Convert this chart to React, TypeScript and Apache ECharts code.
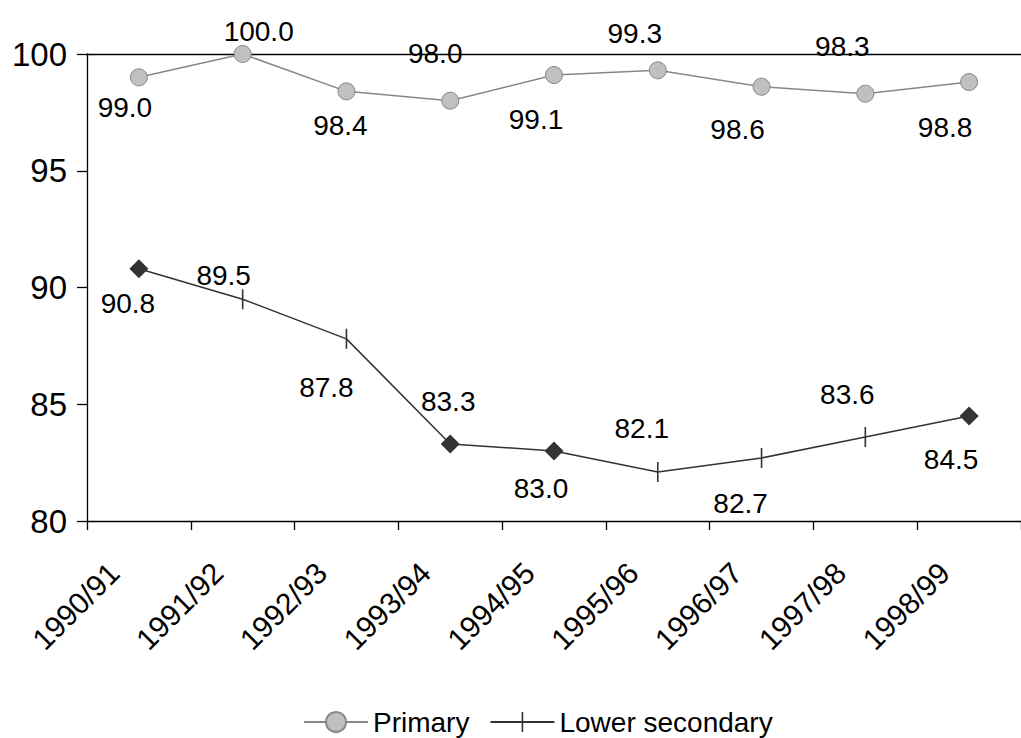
import React, { useEffect, useRef } from "react";
import * as echarts from "echarts";

// School years on the category axis
const years = [
  "1990/91", "1991/92", "1992/93", "1993/94", "1994/95",
  "1995/96", "1996/97", "1997/98", "1998/99",
];

// Rates per level (per cent)
const primary = [99.0, 100.0, 98.4, 98.0, 99.1, 99.3, 98.6, 98.3, 98.8];
const lowerSecondary = [90.8, 89.5, 87.8, 83.3, 83.0, 82.1, 82.7, 83.6, 84.5];

// Years whose lower-secondary point is drawn as a diamond
const diamondYears = ["1990/91", "1993/94", "1994/95", "1998/99"];

// Value-axis ticks
const yMin = 80;
const yMax = 100;
const yStep = 5;

// Label placement relative to each point (px), kept apart from the values
const primaryLabelShift: [number, number][] = [
  [-14, 30], [16, -23], [-6, 34], [-15, -47], [-18, 44],
  [-23, -37], [-24, 43], [-23, -47], [-24, 45],
];
const lowerLabelShift: [number, number][] = [
  [-11, 35], [-19, -24], [-20, 49], [-2, -42], [-13, 38],
  [-16, -43], [-21, 46], [-18, -42], [-18, 44],
];

const FONT = "'Liberation Sans', Arial, sans-serif";
// A thin vertical bar centred in a 20x20 box (the tiny corner segments fix the box)
const TICK_MARK = "path://M0,0L0.01,0M9.2,0h1.6v20h-1.6zM19.99,20L20,20";

function labelFor(shift: [number, number]) {
  return {
    show: true,
    position: "inside",
    align: "center",
    verticalAlign: "middle",
    offset: shift,
    color: "#000",
    textBorderWidth: 0,
    fontSize: 28,
    fontFamily: FONT,
    formatter: (p: any) => Number(p.value).toFixed(1),
  };
}

export default function App() {
  const ref = useRef<HTMLDivElement>(null);

  useEffect(() => {
    document.body.style.margin = "0";
    if (!ref.current) return;
    const chart = echarts.init(ref.current, undefined, { renderer: "svg" });

    const primaryData = primary.map((v, i) => ({
      value: v,
      label: labelFor(primaryLabelShift[i]),
    }));

    const lowerData = lowerSecondary.map((v, i) => {
      const isDiamond = diamondYears.includes(years[i]);
      return {
        value: v,
        symbol: isDiamond ? "diamond" : TICK_MARK,
        symbolSize: isDiamond ? 19 : 20,
        label: labelFor(lowerLabelShift[i]),
      };
    });

    chart.setOption({
      animation: false,
      textStyle: { fontFamily: FONT },
      grid: { left: 87, top: 54, right: -10, bottom: 217, containLabel: false },
      legend: {
        left: 298,
        top: 703,
        itemWidth: 64,
        itemHeight: 25,
        itemGap: 20,
        textStyle: { fontSize: 28, color: "#000", fontFamily: FONT },
        data: ["Primary", "Lower secondary"],
      },
      xAxis: [
        {
          type: "category",
          data: years,
          boundaryGap: true,
          axisLine: { show: true, lineStyle: { color: "#000", width: 1.3 } },
          axisTick: { show: true, length: 9, lineStyle: { color: "#000", width: 1.3 } },
          axisLabel: {
            rotate: 45,
            interval: 0,
            margin: 22,
            fontSize: 30,
            color: "#000",
            fontFamily: FONT,
            padding: [0, 35, 0, 0],
          },
          splitLine: { show: false },
        },
        {
          type: "category",
          data: years,
          position: "top",
          axisLine: { show: true, lineStyle: { color: "#000", width: 1.3 } },
          axisTick: { show: false },
          axisLabel: { show: false },
          splitLine: { show: false },
        },
      ],
      yAxis: {
        type: "value",
        min: yMin,
        max: yMax,
        interval: yStep,
        axisLine: { show: true, lineStyle: { color: "#000", width: 1.3 } },
        axisTick: { show: true, length: 10, lineStyle: { color: "#000", width: 1.3 } },
        axisLabel: { margin: 20, fontSize: 33, color: "#000", fontFamily: FONT },
        splitLine: { show: false },
      },
      series: [
        {
          name: "Primary",
          type: "line",
          data: primaryData,
          symbol: "circle",
          symbolSize: 17,
          lineStyle: { color: "#878787", width: 1.5 },
          itemStyle: { color: "#c0c0c0", borderColor: "#878787", borderWidth: 1 },
          z: 3,
        },
        {
          name: "Lower secondary",
          type: "line",
          data: lowerData,
          symbol: TICK_MARK,
          symbolSize: 20,
          lineStyle: { color: "#333333", width: 1.5 },
          itemStyle: { color: "#333333" },
          z: 3,
        },
      ],
    });

    return () => chart.dispose();
  }, []);

  return <div ref={ref} style={{ width: 1021, height: 738 }} />;
}
